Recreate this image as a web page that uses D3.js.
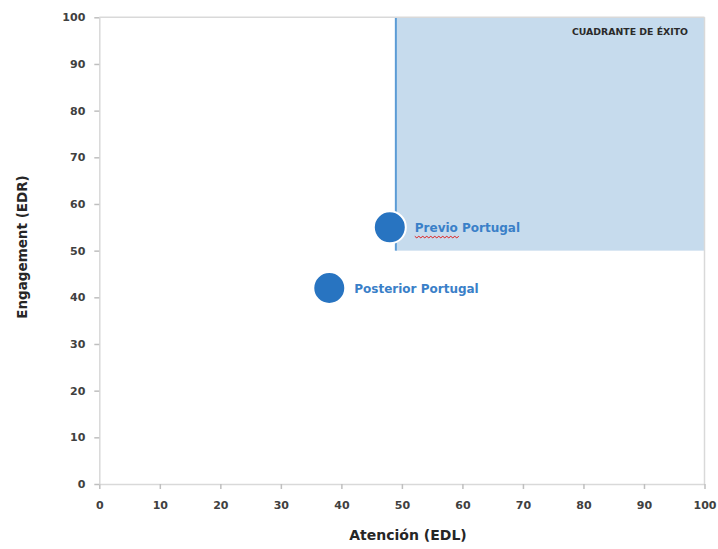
<!DOCTYPE html>
<html><head><meta charset="utf-8">
<script src="https://cdn.jsdelivr.net/npm/d3@7"></script>
<style>body{margin:0;background:#fff;font-family:"DejaVu Sans",sans-serif}</style>
</head><body><svg id="c" width="718" height="549"></svg>
<script>
const pointNames = ["Previo Portugal", "Posterior Portugal"];
const atencion = [48, 38];
const engagement = [55, 42];
const xTicks = [0,10,20,30,40,50,60,70,80,90,100];
const yTicks = [0,10,20,30,40,50,60,70,80,90,100];
const quadrantX = [49, 100];
const quadrantY = [50, 100];
const quadrantLabel = "CUADRANTE DE ÉXITO";

const svg = d3.select("#c");
const m = {l:99.3, r:704.5, t:17.3, b:484};
const x = d3.scaleLinear().domain([0,100]).range([m.l, m.r]);
const y = d3.scaleLinear().domain([0,100]).range([m.b, m.t]);

// quadrant
svg.append("rect").attr("x", x(quadrantX[0])).attr("y", y(quadrantY[1]))
  .attr("width", x(quadrantX[1]) - x(quadrantX[0])).attr("height", y(quadrantY[0]) - y(quadrantY[1]))
  .attr("fill", "#c6dbed");
svg.append("line").attr("x1", x(quadrantX[0])).attr("x2", x(quadrantX[0]))
  .attr("y1", y(quadrantY[1])).attr("y2", y(quadrantY[0]))
  .attr("stroke", "#5b9bd5").attr("stroke-width", 2);
svg.append("text").attr("x", 688).attr("y", 35).attr("text-anchor","end")
  .attr("font-size", 8.5).attr("font-weight","bold").attr("fill","#2a2a2a")
  .attr("font-family","'DejaVu Sans Condensed','DejaVu Sans',sans-serif")
  .attr("textLength", 116).attr("lengthAdjust","spacingAndGlyphs")
  .text(quadrantLabel);

// frame top/right
svg.append("line").attr("x1", m.l).attr("x2", m.r).attr("y1", m.t).attr("y2", m.t).attr("stroke","#d9d9d9").attr("stroke-width",1.5);
svg.append("line").attr("x1", m.r).attr("x2", m.r).attr("y1", m.t).attr("y2", m.b).attr("stroke","#d9d9d9").attr("stroke-width",1.5);

// axes
const xa = svg.append("g").attr("transform", `translate(0,${m.b})`)
  .call(d3.axisBottom(x).tickValues(xTicks).tickSize(5).tickPadding(12).tickSizeOuter(0));
const ya = svg.append("g").attr("transform", `translate(${m.l},0)`)
  .call(d3.axisLeft(y).tickValues(yTicks).tickSize(5).tickPadding(9).tickSizeOuter(0));
[xa, ya].forEach(a => {
  a.select(".domain").attr("stroke","#d9d9d9").attr("stroke-width",1.5);
  a.selectAll(".tick line").attr("stroke","#bfbfbf").attr("stroke-width",1.5);
  a.selectAll(".tick text").attr("font-size", 11).attr("fill","#404040").attr("font-weight","bold")
    .attr("font-family","'DejaVu Sans',sans-serif");
});

// points
const data = pointNames.map((n,i)=>({n, x:atencion[i], y:engagement[i]}));
svg.selectAll("circle.p").data(data).enter().append("circle")
  .attr("cx", d=>x(d.x)).attr("cy", d=>y(d.y)).attr("r", 16)
  .attr("fill","#2874c1").attr("stroke","#ffffff").attr("stroke-width",2);
svg.selectAll("text.lbl").data(data).enter().append("text")
  .attr("x", d=>x(d.x)+25).attr("y", d=>y(d.y)+5)
  .attr("font-size", 12).attr("font-weight","bold").attr("fill","#3a80c8")
  .attr("font-family","'DejaVu Sans',sans-serif")
  .text(d=>d.n);

// spell-check squiggle under "Previo"
const prev = data[0];
const sx = x(prev.x)+25, sy = y(prev.y)+9;
let path = `M${sx},${sy}`;
for (let i=0;i<22;i++) path += ` l2,${i%2?-1.5:1.5}`;
svg.append("path").attr("d", path).attr("fill","none").attr("stroke","#e02020").attr("stroke-width",1);

// titles
svg.append("text").attr("x", 408).attr("y", 540).attr("text-anchor","middle")
  .attr("font-size", 14).attr("font-weight","bold").attr("fill","#262626")
  .attr("font-family","'DejaVu Sans',sans-serif").text("Atención (EDL)");
svg.append("text").attr("transform", `translate(27,247) rotate(-90)`).attr("text-anchor","middle")
  .attr("font-size", 13.5).attr("font-weight","bold").attr("fill","#262626")
  .attr("font-family","'DejaVu Sans',sans-serif").text("Engagement (EDR)");
</script></body></html>
